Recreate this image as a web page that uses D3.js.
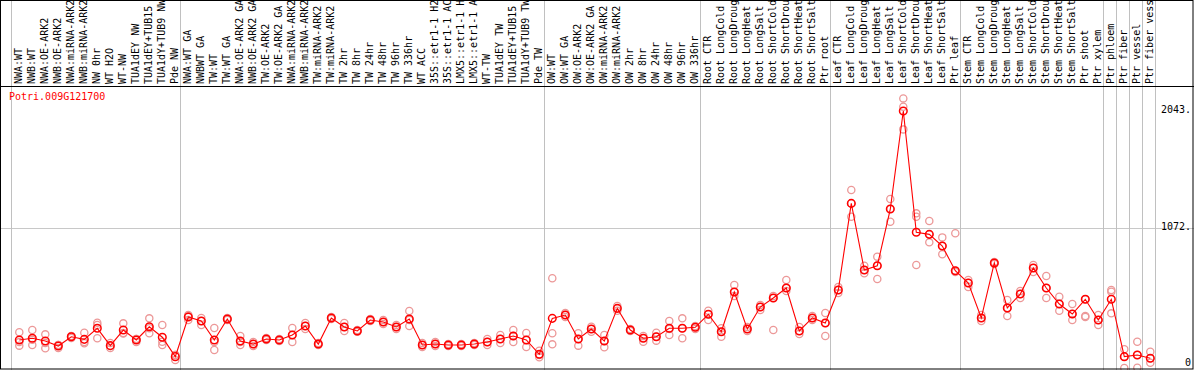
<!DOCTYPE html>
<html>
<head>
<meta charset="UTF-8">
<title>Potri.009G121700</title>
<script src="https://d3js.org/d3.v7.min.js"></script>
<style>
  body { margin: 0; background: #fff; }
  text { font-family: "DejaVu Sans Mono", monospace; font-size: 10px; }
</style>
</head>
<body>
<div id="chart"></div>
<script>
// sample names, left to right
var samples = [
  "NWA:WT", "NWB:WT", "NWA:OE-ARK2", "NWB:OE-ARK2", "NWA:miRNA-ARK2", "NWB:miRNA-ARK2",
  "NW 0hr", "WT H2O", "WT-NW", "TUA1dEY NW", "TUA1dEY+TUB15 NW", "TUA1dY+TUB9 NW", "Pde NW",
  "NWA:WT GA", "NWBWT GA", "TW:WT", "TW:WT GA", "NWA:OE-ARK2 GA", "NWB:OE-ARK2 GA",
  "TW:OE-ARK2", "TW:OE-ARK2 GA", "NWA:miRNA-ARK2", "NWB:miRNA-ARK2", "TW:miRNA-ARK2", "TW:miRNA-ARK2",
  "TW 2hr", "TW 8hr", "TW 24hr", "TW 48hr", "TW 96hr", "TW 336hr", "WT ACC",
  "35S::etr1-1 H2O", "35S::etr1-1 ACC", "LMX5::etr1-1 H2O", "LMX5::etr1-1 ACC",
  "WT-TW", "TUA1dEY TW", "TUA1dEY+TUB15 TW", "TUA1dY+TUB9 TW", "Pde TW",
  "OW:WT", "OW:WT GA", "OW:OE-ARK2", "OW:OE-ARK2 GA", "OW:miRNA-ARK2", "OW:miRNA-ARK2",
  "OW 2hr", "OW 8hr", "OW 24hr", "OW 48hr", "OW 96hr", "OW 336hr",
  "Root CTR", "Root LongCold", "Root LongDrought", "Root LongHeat", "Root LongSalt",
  "Root ShortCold", "Root ShortDrought", "Root ShortHeat", "Root ShortSalt", "Ptr root",
  "Leaf CTR", "Leaf LongCold", "Leaf LongDrought", "Leaf LongHeat", "Leaf LongSalt",
  "Leaf ShortCold", "Leaf ShortDrought", "Leaf ShortHeat", "Leaf ShortSalt", "Ptr leaf",
  "Stem CTR", "Stem LongCold", "Stem LongDrought", "Stem LongHeat", "Stem LongSalt",
  "Stem ShortCold", "Stem ShortDrought", "Stem ShortHeat", "Stem ShortSalt", "Ptr shoot", "Ptr xylem",
  "Ptr phloem", "Ptr fiber", "Ptr vessel", "Ptr fiber vessel"
];

// sample index where a new block starts (grey separators)
var groupStarts = [0, 13, 41, 53, 63, 73, 84, 85, 86, 87, 88];

// mean expression per sample
var means = [
  221, 234, 213, 175, 246, 226, 310, 178, 297, 221, 322, 242, 94,
  396, 366, 221, 381, 213, 190, 229, 221, 259, 328, 190, 389, 320, 290, 373, 358, 320, 381,
  183, 190, 183, 183, 190, 206, 229, 251, 221, 112,
  386, 411, 229, 305, 213, 462, 297, 234, 246, 310, 310, 318,
  417, 284, 587, 305, 472, 541, 617, 290, 389, 350,
  602, 1262, 754, 787, 1219, 1966, 1042, 1026, 937, 749,
  655, 389, 808, 465, 571, 770, 617, 495, 419, 531, 373,
  531, 94, 107, 82
];

// replicate values per sample
var reps = [
  [280, 205, 178], [297, 222, 183], [264, 198, 158], [183, 182, 160], [251, 250, 236], [277, 205, 196],
  [353, 335, 234], [198, 175, 160], [348, 274, 270], [229, 228, 206], [386, 310, 272], [335, 208, 183],
  [107, 106, 69],
  [411, 404, 373], [389, 366, 335], [312, 206, 145], [389, 381, 373], [251, 206, 183], [206, 190, 175],
  [236, 229, 221], [229, 221, 213], [312, 259, 206], [350, 328, 305], [198, 190, 183], [396, 389, 381],
  [350, 320, 290], [297, 290, 283], [381, 373, 366], [373, 358, 343], [335, 320, 305], [442, 373, 328],
  [198, 183, 168], [206, 190, 175], [190, 183, 175], [190, 183, 175], [198, 190, 183], [229, 206, 183],
  [259, 229, 198], [297, 251, 206], [274, 221, 168], [139, 107, 89],
  [691, 272, 188], [426, 411, 396], [272, 229, 178], [322, 305, 284], [259, 213, 165], [480, 462, 444],
  [305, 297, 290], [251, 236, 208], [277, 246, 216], [366, 305, 259], [386, 310, 234], [328, 318, 305],
  [444, 417, 373], [310, 284, 246], [640, 587, 556], [320, 305, 290], [488, 472, 450], [556, 541, 297],
  [678, 617, 594], [320, 290, 267], [404, 389, 373], [427, 350, 251],
  [625, 602, 579], [1364, 1262, 1160], [787, 754, 729], [856, 787, 686], [1295, 1219, 1122],
  [2062, 1998, 1826], [1186, 1160, 792], [1128, 1026, 965], [1003, 937, 874], [1034, 749, 739],
  [678, 655, 625], [411, 389, 366], [816, 808, 800], [526, 465, 404], [594, 571, 541], [792, 770, 739],
  [709, 617, 541], [551, 495, 444], [495, 419, 373], [531, 404, 396], [411, 373, 335],
  [602, 589, 424], [150, 94, 8], [208, 107, 10], [132, 82, 48]
];

var yTicks = [0, 1072, 2043];
var geneName = "Potri.009G121700";

var width = 1194, height = 370;
var headerBottom = 86;

var svg = d3.select("#chart").append("svg")
  .attr("width", width)
  .attr("height", height);

var x = d3.scaleBand()
  .domain(d3.range(samples.length))
  .range([11, 1155])
  .paddingInner(0);

var y = d3.scaleLinear()
  .domain([0, 2043])
  .range([369, 100.9]);

// marks sit slightly right of the band centre in the original
var cx = function (i) { return x(i) + x.bandwidth() / 2 + 1.8; };

// grid line at the middle tick
svg.append("line")
  .attr("x1", 0).attr("x2", width)
  .attr("y1", Math.round(y(1072)) + 0.5).attr("y2", Math.round(y(1072)) + 0.5)
  .attr("stroke", "#c8c8c8");

// block separators
svg.selectAll("line.sep")
  .data(groupStarts)
  .enter().append("line")
  .attr("class", "sep")
  .attr("x1", function (d) { return (d < samples.length ? x(d) : x.range()[1]) + 0.5; })
  .attr("x2", function (d) { return (d < samples.length ? x(d) : x.range()[1]) + 0.5; })
  .attr("y1", 0).attr("y2", height)
  .attr("stroke", "#c0c0c0");

// sample labels, rotated, clipped by the top edge
svg.append("g")
  .selectAll("text")
  .data(samples)
  .enter().append("text")
  .attr("transform", function (d, i) {
    return "translate(" + (x(i) + x.bandwidth() / 2 + 0.8) + "," + (headerBottom - 2) + ") rotate(-90)";
  })
  .attr("dominant-baseline", "central")
  .attr("fill", "#000")
  .text(function (d) { return d; });

// header rule
svg.append("line")
  .attr("x1", 0).attr("x2", width)
  .attr("y1", headerBottom + 0.5).attr("y2", headerBottom + 0.5)
  .attr("stroke", "#000");

// gene name
svg.append("text")
  .attr("x", 9).attr("y", 100)
  .attr("fill", "#ff0000")
  .text(geneName);

// y tick labels, kept inside the panel
svg.selectAll("text.tick")
  .data(yTicks)
  .enter().append("text")
  .attr("class", "tick")
  .attr("x", 1191)
  .attr("y", function (d) { return Math.max(113, Math.min(366, y(d) + 2)); })
  .attr("text-anchor", "end")
  .attr("fill", "#000")
  .text(function (d) { return d === 0 ? "0" : d + "."; });

// replicates
var repPts = [];
reps.forEach(function (r, i) {
  r.forEach(function (v) { repPts.push({ i: i, v: v }); });
});
svg.append("g")
  .selectAll("circle")
  .data(repPts)
  .enter().append("circle")
  .attr("cx", function (d) { return cx(d.i); })
  .attr("cy", function (d) { return y(d.v); })
  .attr("r", 3.6)
  .attr("fill", "none")
  .attr("stroke", "#ec9898")
  .attr("stroke-width", 1.3);

// mean line
svg.append("path")
  .datum(means)
  .attr("d", d3.line()
    .x(function (d, i) { return cx(i); })
    .y(function (d) { return y(d); }))
  .attr("fill", "none")
  .attr("stroke", "#ff0000")
  .attr("stroke-width", 1.1);

// means
svg.append("g")
  .selectAll("circle")
  .data(means)
  .enter().append("circle")
  .attr("cx", function (d, i) { return cx(i); })
  .attr("cy", function (d) { return y(d); })
  .attr("r", 3.8)
  .attr("fill", "none")
  .attr("stroke", "#ff0000")
  .attr("stroke-width", 1.5);

// outer frame
svg.append("rect")
  .attr("x", 0.5).attr("y", 0.5)
  .attr("width", width - 1.5).attr("height", height - 1.5)
  .attr("fill", "none")
  .attr("stroke", "#000");
</script>
</body>
</html>
